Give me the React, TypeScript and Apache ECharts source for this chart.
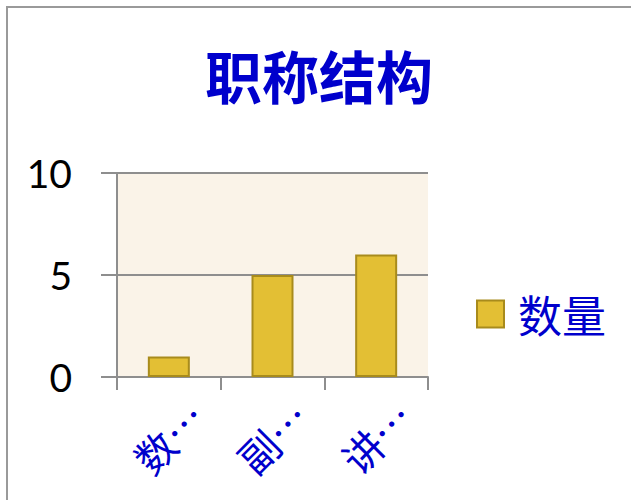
import React, { useEffect, useRef } from "react";
import * as echarts from "echarts";

const categories = ["数…", "副…", "讲…"];
const seriesName = "数量";
const values = [1, 5, 6];
const titleText = "职称结构";

export default function App() {
  const ref = useRef<HTMLDivElement>(null);
  useEffect(() => {
    const chart = echarts.init(ref.current!, null, { renderer: "svg" });
    const grey = "#8e8e8e";
    chart.setOption({
      animation: false,
      backgroundColor: "#ffffff",
      title: {
        text: titleText,
        left: 205,
        top: 45,
        padding: 0,
        textStyle: {
          fontSize: 57,
          fontWeight: "bold",
          color: "#0000CC",
          fontFamily: "Noto Sans CJK SC",
        },
      },
      graphic: [
        {
          type: "rect",
          shape: { x: 7, y: 7, width: 700, height: 600 },
          style: { fill: "none", stroke: "#9a9a9a", lineWidth: 2 },
          silent: true,
        },
      ],
      legend: {
        data: [seriesName],
        orient: "vertical",
        left: 476,
        top: 292,
        padding: 0,
        itemWidth: 27,
        itemHeight: 27,
        icon: "rect",
        textStyle: {
          fontSize: 44,
          color: "#0000CC",
          fontFamily: "Noto Sans CJK SC",
          padding: [0, 0, 0, 9],
        },
      },
      grid: {
        left: 117,
        top: 173,
        right: 203,
        bottom: 123,
        show: true,
        backgroundColor: "#FAF3E8",
        borderWidth: 0,
      },
      xAxis: {
        type: "category",
        data: categories,
        boundaryGap: true,
        axisLine: { show: true, lineStyle: { color: grey, width: 2 } },
        axisTick: { show: true, length: 13, interval: 0, lineStyle: { color: grey, width: 2 } },
        axisLabel: {
          interval: 0,
          rotate: 45,
          align: "center",
          verticalAlign: "middle",
          margin: 60,
          fontSize: 40,
          color: "#0000CC",
          fontFamily: "Noto Sans CJK SC",
        },
      },
      yAxis: {
        type: "value",
        min: 0,
        max: 10,
        interval: 5,
        axisLine: { show: true, lineStyle: { color: grey, width: 2 } },
        axisTick: { show: true, length: 16, lineStyle: { color: grey, width: 2 } },
        splitLine: { show: true, lineStyle: { color: grey, width: 2 } },
        axisLabel: {
          margin: 45,
          fontSize: 39,
          color: "#000000",
          fontFamily: "Lato",
        },
      },
      series: [
        {
          name: seriesName,
          type: "bar",
          data: values,
          barWidth: 42,
          itemStyle: {
            color: "#E3BF34",
            borderColor: "#A88B1C",
            borderWidth: 2,
          },
        },
      ],
    });
    return () => chart.dispose();
  }, []);
  return (
    <div
      ref={ref}
      style={{ position: "absolute", left: 0, top: 0, width: 631, height: 500 }}
    />
  );
}
